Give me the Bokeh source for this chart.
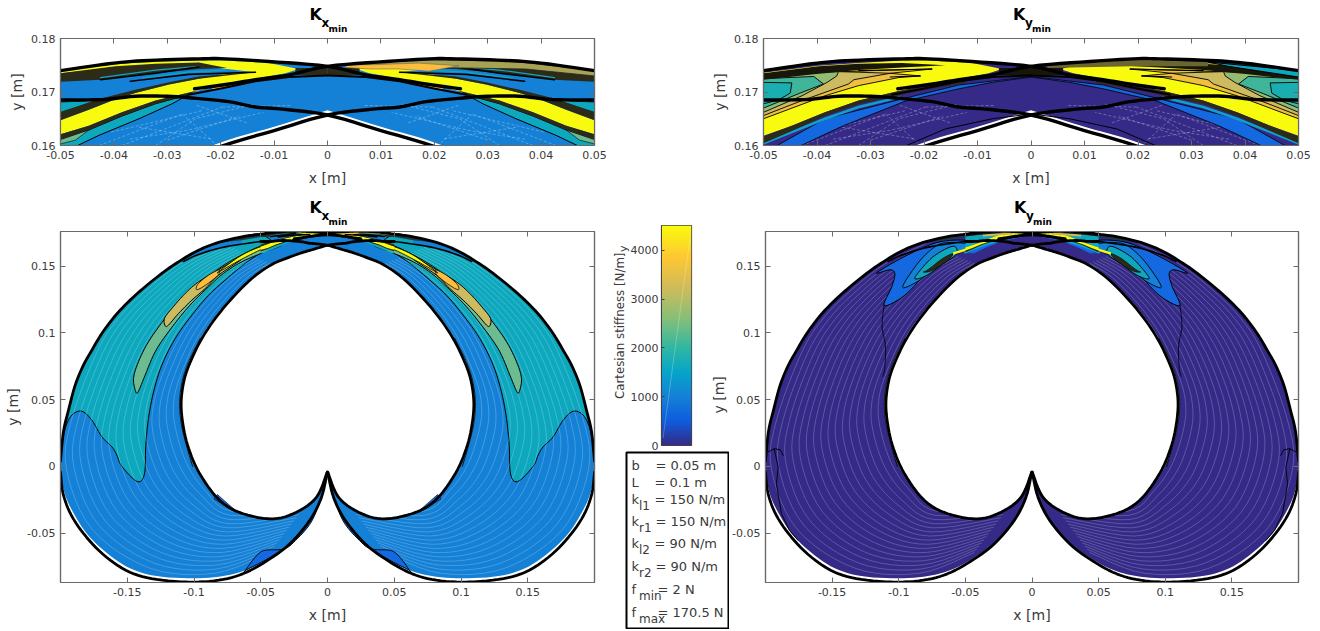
import numpy as np
from math import pi
from bokeh.embed import file_html
from bokeh.layouts import column, row
from bokeh.models import FixedTicker, Label, LinearAxis, LinearColorMapper, Range1d
from bokeh.plotting import figure
from bokeh.resources import INLINE

# ---- stiffness colours ------------------------------------------------------
C_INDIGO, C_BLUE1, C_BLUE2, C_TEAL, C_TEALGREEN = "#352A87", "#1469E0", "#1481D6", "#0DA8BE", "#3FB59A"
C_GREEN, C_SAND, C_ORANGE, C_YELLOW, C_DARK, C_OLIVE = "#6DBB90", "#CDBB62", "#FCBE3C", "#F9FB0E", "#2C2A18", "#A8A255"
CB_STOPS = [0, .11, .22, .33, .44, .58, .72, .86, 1]
CB_COLORS = ["#352A87", "#0F5CDD", "#1481D6", "#06A4CA", "#2EB7A4", "#87BF77", "#D1BB59", "#FEC832", "#F9FB0E"]

# ---- ticks ------------------------------------------------------------------
TOP_XT = [-.05, -.04, -.03, -.02, -.01, 0, .01, .02, .03, .04, .05]
TOP_XL = ["-0.05", "-0.04", "-0.03", "-0.02", "-0.01", "0", "0.01", "0.02", "0.03", "0.04", "0.05"]
TOP_YT = [.16, .17, .18]
TOP_YL = ["0.16", "0.17", "0.18"]
BIG_XT = [-.15, -.1, -.05, 0, .05, .1, .15]
BIG_XL = ["-0.15", "-0.1", "-0.05", "0", "0.05", "0.1", "0.15"]
BIG_YT = [-.05, 0, .05, .1, .15]
BIG_YL = ["-0.05", "0", "0.05", "0.1", "0.15"]
CB_T = [0, 1000, 2000, 3000, 4000]
CB_L = ["0", "1000", "2000", "3000", "4000"]
PARAMS = [("b", "", "= 0.05 m"), ("L", "", "= 0.1 m"), ("k", "l1", "= 150 N/m"), ("k", "r1", "= 150 N/m"),
          ("k", "l2", "= 90 N/m"), ("k", "r2", "= 90 N/m"), ("f", "min", "= 2 N"), ("f", "max", "= 170.5 N")]

# ---- workspace outlines (right-hand branch, mirrored for the left) ----------
OUT_X = [.2, .1978, .194, .189, .1828, .1765, .169, .159, .1478, .1366, .1241, .1116, .0966, .0816, .0642, .05, .04, .0334, .0241, .0191, .011, 0, -.0072, -.0135, -.0197, -.0249]
OUT_Y = [.004, .026, .0422, .0609, .0759, .0871, .0996, .1129, .1246, .1346, .1446, .1533, .162, .1678, .172, .174, .1754, .1759, .1762, .1762, .1757, .1748, .1732, .1723, .1713, .1706]
LOW_X = [.2, .198, .1918, .1805, .1655, .148, .128, .1006, .0781, .0607, .0432, .0282, .0133, .0045, .0002]
LOW_Y = [-.0043, -.0205, -.0367, -.053, -.068, -.0792, -.0846, -.0866, -.0846, -.0792, -.0692, -.0579, -.0404, -.023, -.0043]
HOLE_X = [.0002, .0082, .0232, .0407, .0632, .0807, .0957, .104, .1082, .1096, .1071, .1016, .0941, .0841, .0717, .0567, .0417, .0285, .0195, .01, 0, -.0085, -.0135, -.0185, -.0245, -.03, -.036, -.042, -.05]
HOLE_Y = [-.0043, -.023, -.0342, -.0392, -.0354, -.0255, -.0055, .0135, .031, .0484, .0659, .0809, .0959, .1109, .1258, .1408, .1513, .1568, .16, .1628, .1657, .1668, .1672, .1682, .1688, .1692, .1692, .1686, .1685]
TAIL_X = [-.05, -.0767, -.0966, -.108]
TAIL_Y = [.1685, .1645, .1588, .1535]
FILL_LOW_X = [.2, .1968, .1906, .1805, .1655, .148, .128, .1006, .0781, .0607, .0432, .0282, .0133, .0045, .0002]
FILL_LOW_Y = [-.0043, -.0205, -.0342, -.05, -.0647, -.0762, -.0821, -.0837, -.0821, -.0774, -.0682, -.0574, -.04, -.0225, -.0043]
FILL_IN_X = [.0002, .0082, .0232, .0407, .0632, .0807, .0967, .105, .1094, .1108, .1083, .103, .0953, .0853, .0727, .0577, .0435, .0216, .01, 0]
FILL_IN_Y = [-.0043, -.0225, -.0335, -.0385, -.0347, -.0247, -.0055, .0135, .031, .0484, .0659, .0809, .0959, .1109, .1258, .1408, .1513, .16, .1635, .1666]
FILL_EDGE_X = [.101, .105, .1094, .1108, .1083, .103, .0953]
FILL_EDGE_Y = [0, .0135, .031, .0484, .0659, .0809, .0959]
MESH_OUT_X = [.045, .085, .135, .18, .2, .196, .176, .159, .1366, .1116, .0816]
MESH_OUT_Y = [-.0665, -.0825, -.0795, -.05, -.004, .034, .0871, .1129, .1346, .1533, .1678]
MESH_IN_X = [.015, .0705, .09, .102, .1095, .111, .1071, .0941, .0777, .0577, .0417]
MESH_IN_Y = [-.027, -.031, -.014, .006, .031, .0484, .0659, .0959, .1198, .1408, .1513]
MESH_LEVELS = [.05, .11, .17, .23, .29, .35, .41, .47, .53, .59, .65, .71, .77, .83, .89, .95]
DASH_LINES = [([-.0385, -.0197], [.16, .1672]), ([-.0322, -.0247, -.0135], [.16, .165, .1678]),
              ([-.0428, -.0272], [.16, .1659]), ([-.0353, -.0216], [.1634, .1612]),
              ([-.0272, -.021], [.1659, .1603]), ([-.0197, -.0066], [.1672, .1675]),
              ([-.0405, -.0235], [.1625, .1665]), ([-.03, -.0165], [.161, .1655]),
              ([-.037, -.0265, -.012], [.1612, .1628, .1662]), ([-.0245, -.015], [.1675, .1642])]
TAPER_X = [.05, .0642, .0816, .0642, .05]
TAPER_Y = [.174, .172, .1678, .1695, .1719]
SLIVER_X = [.0642, .0816, .0966, .108, .0966, .0767, .0642]
SLIVER_Y = [.172, .1678, .162, .1553, .1588, .1645, .167]

# ---- large-panel contour regions, Kx (right-hand) ---------------------------
KX_TEAL_X = [.1995, .1965, .1915, .1841, .1765, .169, .1615, .1578, .154, .1425, .1371, .1361, .1341, .1303, .1241, .1141, .1016, .0891, .0767, .0617, .0467, .0392, .05, .0642, .0816, .0966, .1116, .1241, .1366, .1478, .159, .169, .1765, .1828, .189, .194, .1978]
KX_TEAL_Y = [.012, .0285, .0385, .0414, .0347, .0222, .0147, .0085, 0, -.0113, -.0055, .016, .036, .0559, .0759, .0959, .1134, .1283, .1396, .1521, .162, .1658, .174, .172, .1678, .162, .1533, .1446, .1346, .1246, .1129, .0996, .0871, .0759, .0609, .0422, .026]
KX_GREEN_X = [.1436, .1453, .1416, .1341, .1216, .1066, .0941, .0829, .0692, .0517, .0392, .0342, .0467, .0642, .0779, .0891, .1041, .1191, .1291, .1366, .1416]
KX_GREEN_Y = [.0559, .0659, .0784, .0934, .1109, .1283, .1383, .1471, .1558, .1645, .1683, .1658, .1608, .1533, .1446, .1346, .1196, .1009, .0859, .0684, .0564]
KX_SAND_X = [.1216, .1221, .1166, .1066, .0966, .0841, .0692, .0642, .0816, .0916, .1016, .1116, .1191]
KX_SAND_Y = [.1054, .1109, .1184, .1296, .1383, .1458, .1545, .1553, .1433, .1333, .1246, .1146, .1059]
KX_ORANGE_X = [.0984, .0966, .0891, .0816, .0816, .0879, .0954]
KX_ORANGE_Y = [.1328, .1371, .1433, .1471, .1438, .1383, .1333]
KX_YELLOW_X = [.0816, .0642, .0467, .0317, .0317, .0467, .0642, .0791]
KX_YELLOW_Y = [.1458, .1583, .1658, .1695, .1683, .1638, .1553, .147]
KX_P1_X = [.0615, .0553, .0478, .0328, .024, .0115, .003, .0045, .0133, .0282, .0432, .0607]
KX_P1_Y = [-.078, -.0693, -.063, -.0618, -.0555, -.0405, -.018, -.0225, -.04, -.0574, -.0682, -.0774]
KX_P2_X = [.0688, .085, .0825, .07]
KX_P2_Y = [-.0343, -.0243, -.021, -.032]

# ---- large-panel contour regions, Ky (right-hand) ---------------------------
KY_L1_X = [.0367, .0667, .0916, .1166, .1066, .1029, .1054, .1111, .0991, .0879, .0767, .0617, .0367]
KY_L1_Y = [.1688, .1688, .1593, .1451, .1473, .1443, .1343, .1206, .1256, .1356, .1493, .1605, .1668]
KY_L2_X = [.0492, .0667, .0779, .0879, .0971, .0866, .0767, .0617, .0492]
KY_L2_Y = [.1668, .1673, .1605, .1493, .1343, .1381, .1456, .1568, .1623]
KY_L3_X = [.0592, .0729, .0829, .0879, .0791, .0667, .0567]
KY_L3_Y = [.165, .1581, .1481, .1406, .1431, .1518, .1593]
KY_L4_X = [.0592, .0667, .0779, .0816, .0754, .0642]
KY_L4_Y = [.1593, .156, .1475, .1456, .1466, .1535]
KY_YEL_X = [.0342, .0592, .0592, .0342]
KY_YEL_Y = [.168, .1605, .1585, .166]
KY_THIN_X = [.1111, .1125, .11, .1105, .112]
KY_THIN_Y = [.1206, .105, .09, .0735, .0675]
KY_EDGE1_X = [.2005, .1968, .1935, .1905, .1918, .188, .182, .1755]
KY_EDGE1_Y = [.0107, .0115, .0133, -.0005, -.013, -.0354, -.048, -.0554]
KY_EDGE2_X = [.1935, .189, .1867]
KY_EDGE2_Y = [.0133, .0125, .0082]
KY_BIG_TEAL_X = [-.05, -.0322, -.0241, -.0241, -.0322, -.05]
KY_BIG_TEAL_Y = [.1735, .1757, .1759, .1735, .1708, .164]
KY_BIG_CORE_X = [-.05, -.0385, -.0322, -.0247, -.0197, -.0135, -.0079, -.0054, -.011, -.0191, -.0241, -.0241, -.0322, -.0385, -.05]
KY_BIG_CORE_Y = [.1618, .1662, .1684, .1702, .1712, .1725, .1735, .1743, .1754, .1759, .1759, .1735, .1708, .168, .164]
KY_BIG_SAND_X = [-.037, -.014, -.014, -.037]
KY_BIG_SAND_Y = [.1745, .1752, .1738, .1722]

# ---- close-up regions, left-hand, mirrored; the right gets its own overlays --
KX_YEL_UP_X = [-.05, -.0397, -.0322, -.0241, -.0241, -.0322, -.0397, -.05]
KX_YEL_UP_Y = [.174, .1752, .1757, .1759, .1749, .175, .1746, .1735]
KX_YEL_X = [-.0241, -.0191, -.011, -.0054, -.0079, -.0135, -.0197, -.0247, -.0322, -.0385, -.0447, -.05, -.05, -.0447, -.0403, -.036, -.0297, -.0241, -.0191, -.0135, -.0188, -.0241]
KX_YEL_Y = [.1759, .1759, .1754, .1743, .1735, .1725, .1712, .1702, .1684, .1662, .1637, .1621, .1647, .1667, .1684, .1698, .1714, .1725, .1734, .1737, .1743, .1749]
KX_DUP_X = [-.05, -.0397, -.0322, -.0241, -.0188, -.0241, -.0322, -.0425, -.05]
KX_DUP_Y = [.1735, .1748, .1753, .1755, .1745, .1743, .1735, .1723, .1719]
KX_DMID_X = [-.05, -.0428, -.036, -.0297, -.0241, -.0135, -.0135, -.0241, -.0297, -.036, -.0403, -.0447, -.05]
KX_DMID_Y = [.1662, .1687, .1704, .1718, .1729, .1738, .1737, .1725, .1714, .1698, .1684, .1667, .1647]
KX_TSIDE_X = [-.05, -.0428, -.05]
KX_TSIDE_Y = [.1681, .1685, .1662]
KX_DLOW_X = [-.05, -.0447, -.0385, -.0322, -.0247, -.026, -.0322, -.0385, -.0447, -.05]
KX_DLOW_Y = [.1621, .1637, .1662, .1684, .1702, .1695, .1678, .1655, .1629, .1611]
KX_TLOW_X = [-.05, -.0447, -.0385, -.0322, -.026, -.0291, -.0353, -.0428, -.0472, -.05]
KX_TLOW_Y = [.1611, .1629, .1655, .1678, .1695, .1678, .165, .1619, .1598, .1598]
KX_GLOW_X = [-.05, -.0447, -.0472, -.05]
KX_GLOW_Y = [.1611, .1629, .161, .1603]
CENTER_X = [-.006, 0, 0, -.006]
CENTER_Y = [.1745, .1745, .1731, .1732]
KX_STREAK_X = [-.0216, -.0179, -.0179, -.0216]
KX_STREAK_Y = [.1708, .1717, .1712, .1704]
EDGE_X = [-.026, -.0197, -.0135, -.0072, 0]
EDGE_Y = [.1695, .1707, .172, .1728, .1731]
WEDGE1_X = [-.0425, -.0322, -.0241]
WEDGE1_Y = [.1723, .1735, .1747]
WEDGE2_X = [-.0369, -.026, -.0135]
WEDGE2_Y = [.172, .1733, .1737]
STREAK1_X = [-.0425, -.0322, -.0241]
STREAK1_Y = [.1727, .1741, .1748]
STREAK2_X = [-.0345, -.026, -.019]
STREAK2_Y = [.1726, .1737, .1741]
KX_ROLIVE_X = [.0034, .019, .034, .05, .05, .0371, .0246, .0034]
KX_ROLIVE_Y = [.1752, .176, .1758, .1741, .173, .1743, .1745, .1748]
KX_RORANGE_X = [.0034, .0084, .0171, .0246, .019, .0134, .0077, .0034]
KX_RORANGE_Y = [.1751, .1751, .1754, .1749, .1739, .1743, .1743, .1746]

KY_YEL_BIG_X = [-.05, -.0397, -.0322, -.0241, -.0191, -.011, -.0054, -.0079, -.0135, -.0197, -.0247, -.0322, -.0385, -.0447, -.05]
KY_YEL_BIG_Y = [.1736, .1749, .1754, .1759, .1759, .1754, .1743, .1735, .1725, .1712, .1702, .1684, .1662, .1637, .1618]
KY_ORANGE_X = [-.05, -.0385, -.0322, -.0247, -.0207, -.0263, -.0185, -.0297, -.05]
KY_ORANGE_Y = [.165, .1693, .1712, .1727, .173, .1735, .1743, .174, .1733]
KY_SAND_X = [-.05, -.0428, -.0341, -.0331, -.0263, -.0322, -.036, -.05]
KY_SAND_Y = [.1656, .1684, .1715, .1723, .1735, .1737, .1738, .1733]
KY_GREEN_X = [-.05, -.0428, -.0381, -.0363, -.036, -.05]
KY_GREEN_Y = [.1662, .1693, .1718, .173, .1738, .1733]
KY_TG_X = [-.05, -.0434, -.0388, -.0406, -.05]
KY_TG_Y = [.167, .1697, .1715, .1729, .1725]
KY_TEAL_X = [-.05, -.0447, -.045, -.0472, -.05]
KY_TEAL_Y = [.1718, .1717, .1698, .1685, .1678]
KY_DUP_X = [-.05, -.0397, -.0322, -.0241, -.016, -.0241, -.0322, -.0406, -.05]
KY_DUP_Y = [.1735, .1748, .1753, .1754, .175, .1746, .1741, .1733, .1723]
KY_DLOW_X = [-.05, -.0447, -.0385, -.0322, -.0247, -.0197, -.0122, -.0122, -.0197, -.0247, -.0322, -.0385, -.0447, -.05]
KY_DLOW_Y = [.1617, .1637, .1662, .1684, .1702, .171, .1723, .1717, .1704, .1694, .1677, .1655, .1627, .1604]
KY_TLINE_X = [-.05, -.0385, -.0322, -.0247]
KY_TLINE_Y = [.1604, .165, .1672, .169]
KY_BLUE_X = [-.0478, -.0385, -.0241, -.0135, 0, 0, -.0072, -.0135, -.0235, -.0353, -.0434]
KY_BLUE_Y = [.1598, .165, .1687, .1713, .1729, .1728, .1718, .1706, .1683, .1636, .1598]
KY_THINC_X = [-.0235, -.016, -.0072, 0]
KY_THINC_Y = [.1599, .1631, .165, .1659]
KY_RTOP_X = [.003, .019, .0331, .0331, .019, .003]
KY_RTOP_Y = [.1752, .176, .1756, .1748, .1748, .1745]
KY_RUP_X = [.0331, .05, .05, .0369]
KY_RUP_Y = [.1756, .174, .1728, .1748]
KY_W1_X = [-.0322, -.0185]
KY_W1_Y = [.174, .1743]
KY_W2_X = [-.0263, -.0207]
KY_W2_Y = [.1728, .173]

AXIS = "#6a6a6a"
TXT = "#3a3a3a"
FONT = "DejaVu Sans"


def neg(v):
    return [-a for a in v]


def curve(xs, ys, closed=False, n=6):
    """Draw-time rounding of a hand-read outline, passing through every read point."""
    pts = np.column_stack([xs, ys])
    m = len(pts)
    seq = range(m) if closed else range(m - 1)
    out = []
    for i in seq:
        if closed:
            p0, p1, p2, p3 = pts[(i - 1) % m], pts[i], pts[(i + 1) % m], pts[(i + 2) % m]
        else:
            p0, p1, p2, p3 = pts[max(i - 1, 0)], pts[i], pts[i + 1], pts[min(i + 2, m - 1)]
        for t in np.arange(n) / n:
            out.append(0.5 * (2 * p1 + (p2 - p0) * t + (2 * p0 - 5 * p1 + 4 * p2 - p3) * t ** 2 + (3 * p1 - p0 - 3 * p2 + p3) * t ** 3))
    if not closed:
        out.append(pts[-1])
    out = np.array(out)
    return list(out[:, 0]), list(out[:, 1])


def both(p, xs, ys, color, lw=0.8, smooth=False):
    if smooth:
        xs, ys = curve(xs, ys, closed=True)
    for sx in (xs, neg(xs)):
        p.patch(sx, ys, fill_color=color, line_color="black" if lw else None, line_width=lw or 1, line_alpha=1 if lw else 0, line_join="round")


def both_line(p, xs, ys, color="black", lw=1.0, alpha=1.0, smooth=False):
    if smooth:
        xs, ys = curve(xs, ys)
    for sx in (xs, neg(xs)):
        p.line(sx, ys, line_color=color, line_width=lw, line_alpha=alpha, line_cap="round", line_join="round")


def base_fill(p, color):
    keep = [i for i, x in enumerate(OUT_X) if x >= 0]
    ux, uy = curve([OUT_X[i] for i in keep], [OUT_Y[i] for i in keep])
    lx, ly = curve(FILL_LOW_X, FILL_LOW_Y)
    ix, iy = curve(FILL_IN_X, FILL_IN_Y)
    xs = ux + neg(ux)[::-1] + neg(lx) + neg(ix) + ix[::-1] + lx[::-1]
    ys = uy + uy[::-1] + ly + iy + iy[::-1] + ly[::-1]
    p.patch(xs, ys, fill_color=color, line_alpha=0)


def mesh(p):
    ox, oy, ix, iy = map(np.array, (MESH_OUT_X, MESH_OUT_Y, MESH_IN_X, MESH_IN_Y))
    for f in MESH_LEVELS:
        both_line(p, list(ix + (ox - ix) * f), list(iy + (oy - iy) * f), "white", 0.7, 0.3, True)


def dashes(p):
    for xs, ys in DASH_LINES:
        for sx in (xs, neg(xs)):
            p.line(sx, ys, line_color="white", line_width=0.7, line_alpha=0.4, line_dash="3 2")


def curves(p, lw, tail=True):
    both_line(p, OUT_X, OUT_Y, "black", lw, smooth=True)
    both_line(p, LOW_X, LOW_Y, "black", lw, smooth=True)
    both_line(p, HOLE_X, HOLE_Y, "black", lw, smooth=True)
    both_line(p, FILL_EDGE_X, FILL_EDGE_Y, "black", 0.8, smooth=True)
    if tail:
        both_line(p, TAIL_X, TAIL_Y, "black", 1.6, smooth=True)


def kx_close(p, ow=1.0):
    both(p, KX_YEL_X, KX_YEL_Y, C_YELLOW, 0)
    both(p, KX_YEL_UP_X, KX_YEL_UP_Y, C_YELLOW, 0)
    both(p, KX_TSIDE_X, KX_TSIDE_Y, C_TEAL, 0.6 * ow)
    both(p, KX_TLOW_X, KX_TLOW_Y, C_TEAL, 1.0 * ow)
    both(p, KX_GLOW_X, KX_GLOW_Y, C_GREEN, 0.6 * ow)
    both(p, KX_DUP_X, KX_DUP_Y, C_DARK, 0)
    both(p, KX_DMID_X, KX_DMID_Y, C_DARK, 0)
    both(p, KX_DLOW_X, KX_DLOW_Y, C_DARK, 0)
    both(p, CENTER_X, CENTER_Y, C_DARK, 0)
    both(p, KX_STREAK_X, KX_STREAK_Y, C_ORANGE, 0)
    both_line(p, EDGE_X, EDGE_Y, "black", 2)
    both_line(p, STREAK1_X, STREAK1_Y, C_TEAL, 1.2)
    both_line(p, STREAK2_X, STREAK2_Y, C_TEAL, 1.2)
    both_line(p, WEDGE1_X, WEDGE1_Y, "black", 1.6)
    both_line(p, WEDGE2_X, WEDGE2_Y, "black", 1.6)
    p.patch(KX_ROLIVE_X, KX_ROLIVE_Y, fill_color=C_OLIVE, line_color="#222", line_width=0.8, line_alpha=ow)
    p.patch(KX_RORANGE_X, KX_RORANGE_Y, fill_color=C_ORANGE, line_color="#555", line_width=0.5, line_alpha=ow)


def ky_close(p):
    both(p, KY_BLUE_X, KY_BLUE_Y, C_BLUE1, 0.8)
    both_line(p, KY_TLINE_X, KY_TLINE_Y, "#0EA0CE", 2.5)
    both(p, KY_YEL_BIG_X, KY_YEL_BIG_Y, C_YELLOW, 0)
    both(p, KY_ORANGE_X, KY_ORANGE_Y, "#F0C040", 0.9)
    both(p, KY_SAND_X, KY_SAND_Y, C_SAND, 0.9)
    both(p, KY_GREEN_X, KY_GREEN_Y, "#92BC72", 0.9)
    both(p, KY_TG_X, KY_TG_Y, C_TEALGREEN, 0.9)
    both(p, KY_TEAL_X, KY_TEAL_Y, "#1BAEB0", 0.9)
    both(p, KY_DUP_X, KY_DUP_Y, "#181608", 0)
    both(p, KY_DLOW_X, KY_DLOW_Y, C_DARK, 0)
    both(p, CENTER_X, CENTER_Y, "#181608", 0)
    both_line(p, EDGE_X, EDGE_Y, "black", 2)
    both_line(p, KY_THINC_X, KY_THINC_Y, "black", 1.0)
    both_line(p, KY_W1_X, KY_W1_Y, "black", 1.2)
    both_line(p, KY_W2_X, KY_W2_Y, "black", 1.2)
    p.patch(KY_RTOP_X, KY_RTOP_Y, fill_color="#6B6530", line_alpha=0)
    p.patch(KY_RUP_X, KY_RUP_Y, fill_color=C_TEAL, line_color="black", line_width=1.0)


def ky_big(p):
    both(p, KY_BLUE_X, KY_BLUE_Y, C_BLUE1, 0)
    both_line(p, KY_TLINE_X, KY_TLINE_Y, "#0EA0CE", 2.5)
    both(p, KY_BIG_TEAL_X, KY_BIG_TEAL_Y, C_TEAL, 0)
    both(p, KY_BIG_CORE_X, KY_BIG_CORE_Y, C_YELLOW, 0)
    both(p, KY_BIG_SAND_X, KY_BIG_SAND_Y, C_SAND, 0)
    both(p, KY_DUP_X, KY_DUP_Y, "#181608", 0)
    both(p, KY_DLOW_X, KY_DLOW_Y, C_DARK, 0)
    both(p, CENTER_X, CENTER_Y, "#181608", 0)
    both_line(p, EDGE_X, EDGE_Y, "black", 2)


def strip(w, h, left, right, sub):
    """Band above a panel that carries its composite title as real text."""
    s = figure(width=w, height=h, x_range=Range1d(-1, 1), y_range=Range1d(0, h), toolbar_location=None,
               output_backend="svg", x_axis_location=None, y_axis_location=None,
               min_border_left=left, min_border_right=right, min_border_top=0, min_border_bottom=0)
    s.grid.visible = False
    s.outline_line_color = None
    for txt, xo, yo, size in (("K", -18, 20, "16px"), (sub, -6, 12, "12px"), ("min", 1, 6, "9px")):
        s.add_layout(Label(x=0, y=0, x_offset=xo, y_offset=yo, text=txt, text_font=FONT, text_font_size=size,
                           text_font_style="bold", text_color="black", text_baseline="middle"))
    return s


def panel(w, h, left, right, top, bottom, xr, yr, xt, xl, yt, yl, ylabel=True):
    p = figure(width=w, height=h, x_range=Range1d(*xr), y_range=Range1d(*yr), toolbar_location=None,
               output_backend="svg", x_axis_location=None, y_axis_location=None,
               min_border_left=left, min_border_right=right, min_border_top=top, min_border_bottom=bottom)
    p.grid.visible = False
    p.outline_line_color = AXIS
    p.outline_line_width = 1.2
    for place, ticks, over, label, off in (("below", xt, dict(zip(xt, xl)), "x [m]", 8),
                                           ("left", yt, dict(zip(yt, yl)), "y [m]" if ylabel else None, 3),
                                           ("above", xt, None, None, 0), ("right", yt, None, None, 0)):
        ax = LinearAxis(ticker=FixedTicker(ticks=ticks), axis_line_color=AXIS, axis_line_width=1.2,
                        major_tick_line_color=AXIS, major_tick_in=5, major_tick_out=0, minor_tick_line_color=None)
        if over is None:
            ax.major_label_text_font_size = "1px"
            ax.major_label_text_color = None
            ax.major_label_standoff = 0
        else:
            ax.major_label_overrides = over
            ax.major_label_text_font = FONT
            ax.major_label_text_font_size = "11px"
            ax.major_label_text_color = TXT
            ax.major_label_standoff = 5
        if label:
            ax.axis_label = label
            ax.axis_label_text_font = FONT
            ax.axis_label_text_font_size = "14px"
            ax.axis_label_text_font_style = "normal"
            ax.axis_label_text_color = TXT
            ax.axis_label_standoff = off
        p.add_layout(ax, place)
    return p


TOP_R = ((-.05, .05), (.16, .18))
BIG_R = ((-.2, .2), (-.0869, .176))

# ---- close-up Kx ------------------------------------------------------------
p1 = panel(700, 163, 60, 106, 4, 52, *TOP_R, TOP_XT, TOP_XL, TOP_YT, TOP_YL)
base_fill(p1, C_BLUE2)
dashes(p1)
kx_close(p1)
curves(p1, 3.4, tail=False)
s1 = strip(700, 34, 60, 106, "x")

# ---- close-up Ky ------------------------------------------------------------
p2 = panel(620, 163, 63, 22, 4, 52, *TOP_R, TOP_XT, TOP_XL, TOP_YT, TOP_YL)
base_fill(p2, C_INDIGO)
dashes(p2)
ky_close(p2)
curves(p2, 3.4, tail=False)
s2 = strip(620, 34, 63, 22, "y")

# ---- full Kx ----------------------------------------------------------------
p3 = panel(600, 399, 60, 6, 4, 44, *BIG_R, BIG_XT, BIG_XL, BIG_YT, BIG_YL)
base_fill(p3, C_BLUE2)
both(p3, KX_TEAL_X, KX_TEAL_Y, C_TEAL, 1.0, smooth=True)
mesh(p3)
both(p3, SLIVER_X, SLIVER_Y, C_BLUE2, 0)
both(p3, KX_P1_X, KX_P1_Y, C_BLUE1, 0.9, smooth=True)
both(p3, KX_P2_X, KX_P2_Y, C_BLUE1, 0.6)
both(p3, KX_GREEN_X, KX_GREEN_Y, C_GREEN, 1.0, smooth=True)
both(p3, KX_SAND_X, KX_SAND_Y, C_SAND, 1.0, smooth=True)
both(p3, KX_ORANGE_X, KX_ORANGE_Y, C_ORANGE, 0.8, smooth=True)
both(p3, KX_YELLOW_X, KX_YELLOW_Y, C_YELLOW, 0.8, smooth=True)
both(p3, TAPER_X, TAPER_Y, "#1E3A40", 0)
kx_close(p3, ow=0)
curves(p3, 2.8)
s3 = strip(600, 30, 60, 6, "x")

# ---- full Ky ----------------------------------------------------------------
p4 = panel(591, 399, 35, 22, 4, 44, *BIG_R, BIG_XT, BIG_XL, BIG_YT, BIG_YL, ylabel=False)
base_fill(p4, C_INDIGO)
mesh(p4)
both(p4, KY_L1_X, KY_L1_Y, C_BLUE1, 1.0, smooth=True)
both(p4, KY_L2_X, KY_L2_Y, C_BLUE2, 0.9, smooth=True)
both(p4, KY_L3_X, KY_L3_Y, C_TEAL, 0.9, smooth=True)
both(p4, KY_L4_X, KY_L4_Y, C_DARK, 0.6, smooth=True)
both(p4, KY_YEL_X, KY_YEL_Y, C_YELLOW, 0)
both_line(p4, KY_THIN_X, KY_THIN_Y, "black", 0.8, smooth=True)
both_line(p4, KY_EDGE1_X, KY_EDGE1_Y, "black", 0.9)
both_line(p4, KY_EDGE2_X, KY_EDGE2_Y, "black", 0.9)
both(p4, TAPER_X, TAPER_Y, "#1E3A40", 0)
ky_big(p4)
curves(p4, 2.8)
s4 = strip(591, 30, 35, 22, "y")

# ---- colour bar -------------------------------------------------------------
CB_TOP = 4510
pos = np.linspace(0, 1, 256)
rgb = np.array([[int(c[i:i + 2], 16) for i in (1, 3, 5)] for c in CB_COLORS], dtype=float)
palette = ["#%02x%02x%02x" % tuple(int(round(np.interp(t, CB_STOPS, rgb[:, k]))) for k in range(3)) for t in pos]
mapper = LinearColorMapper(palette=palette, low=0, high=1)
cb = figure(width=129, height=254, x_range=Range1d(0, 1), y_range=Range1d(0, CB_TOP), toolbar_location=None,
            output_backend="svg", x_axis_location=None, y_axis_location=None,
            min_border_left=59, min_border_right=38, min_border_top=28, min_border_bottom=6)
cb.grid.visible = False
cb.outline_line_color = "#444444"
cb.outline_line_width = 1.2
cb.image(image=[pos.reshape(256, 1)], x=0, y=0, dw=1, dh=CB_TOP, color_mapper=mapper)
cb.line([.05, .95], [150, 4250], line_color="white", line_width=0.7, line_alpha=0.35)
cb_ax = LinearAxis(ticker=FixedTicker(ticks=CB_T), major_label_overrides=dict(zip(CB_T, CB_L)),
                   major_label_text_font=FONT, major_label_text_font_size="11px", major_label_text_color=TXT,
                   major_tick_in=3, major_tick_out=0, major_tick_line_color="#444444", minor_tick_line_color=None,
                   axis_line_color="#444444", major_label_standoff=3)
cb.add_layout(cb_ax, "left")
for txt, xv, yv, xo, size, side in (("Cartesian stiffness [N/m]", 0, 2454, -42, "11.8px", "left"),
                                    ("y", 0, 4035, -38, "11px", "left"),
                                    ("y [m]", 1, 1037, 27, "14px", "right")):
    cb.add_layout(Label(x=xv, y=yv, x_offset=xo, angle=pi / 2, text=txt, text_font=FONT, text_font_size=size,
                        text_color=TXT, text_align="center", text_baseline="middle"), side)

# ---- parameter box ----------------------------------------------------------
box = figure(width=129, height=178, x_range=Range1d(0, 102), y_range=Range1d(0, 176), toolbar_location=None,
             output_backend="svg", x_axis_location=None, y_axis_location=None,
             min_border_left=26, min_border_right=1, min_border_top=1, min_border_bottom=1)
box.grid.visible = False
box.outline_line_color = "black"
box.outline_line_width = 2
rows_y = [163, 146, 129, 107, 85, 62, 39, 16]
eq_x = [29, 28, 28, 29, 28, 29, 31, 31]
for (sym, sub, rest), ry, ex in zip(PARAMS, rows_y, eq_x):
    box.add_layout(Label(x=5, y=ry, text=sym, text_font=FONT, text_font_size="13px", text_color=TXT, text_baseline="middle"))
    if sub:
        box.add_layout(Label(x=12.5, y=ry - 6, text=sub, text_font=FONT, text_font_size="12px", text_color=TXT, text_baseline="middle"))
    box.add_layout(Label(x=ex, y=ry, text=rest, text_font=FONT, text_font_size="13px", text_color=TXT, text_baseline="middle"))

page = column(row(column(s1, p1), column(s2, p2)), row(column(s3, p3), column(cb, row(box)), column(s4, p4)))
open("out.html", "w").write(file_html(page, INLINE))
